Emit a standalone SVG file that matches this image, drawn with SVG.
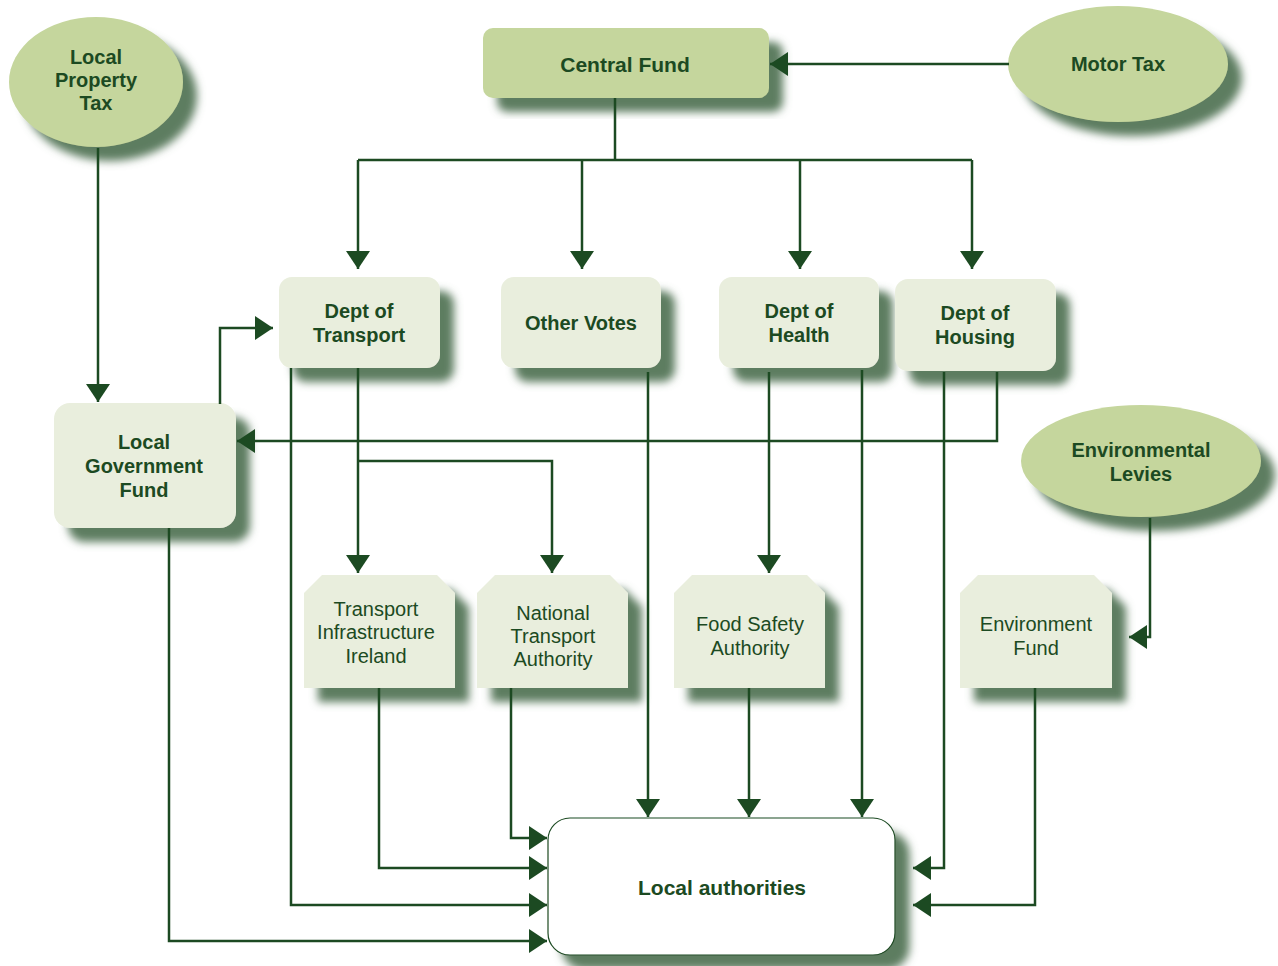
<svg xmlns="http://www.w3.org/2000/svg" width="1278" height="966" viewBox="0 0 1278 966">
<style>
.ell{fill:#c5d69d;filter:url(#sh)}
.box{fill:#e9eedd;filter:url(#sh)}
.la{fill:#ffffff;stroke:#1c4a22;stroke-width:1.2;filter:url(#sh)}
.b{font-family:"Liberation Sans",Arial,sans-serif;font-weight:bold;font-size:20px;fill:#1c4a22;text-anchor:middle}
.r{font-family:"Liberation Sans",Arial,sans-serif;font-size:20px;fill:#1c4a22;text-anchor:middle}
.c path{fill:none;stroke:#1c4a22;stroke-width:2.5;marker-end:url(#ah)}
.c path.n{marker-end:none}
</style>
<defs>
<filter id="sh" x="-20%" y="-20%" width="150%" height="150%">
<feDropShadow dx="14" dy="14" stdDeviation="4" flood-color="#5d7d61" flood-opacity="1"/>
</filter>
<marker id="ah" markerUnits="userSpaceOnUse" markerWidth="18" markerHeight="24" refX="18" refY="12" orient="auto">
<path d="M0,0 L18,12 L0,24 z" fill="#1c4a22"/>
</marker>
</defs>
<rect width="1278" height="966" fill="#ffffff"/>

<g id="n-lpt"><ellipse class="ell" cx="96" cy="82" rx="87" ry="65"/>
<text class="b" x="96" y="64">Local</text><text class="b" x="96" y="87">Property</text><text class="b" x="96" y="110">Tax</text></g>
<g id="n-cf"><rect class="ell" x="483" y="28" width="286" height="70" rx="10"/>
<text class="b" x="625" y="72" style="font-size:21px">Central Fund</text></g>
<g id="n-mt"><ellipse class="ell" cx="1118" cy="64" rx="110" ry="58"/>
<text class="b" x="1118" y="71">Motor Tax</text></g>
<g id="n-dt"><rect class="box" x="279" y="277" width="161" height="91" rx="13"/>
<text class="b" x="359" y="318">Dept of</text><text class="b" x="359" y="342">Transport</text></g>
<g id="n-ov"><rect class="box" x="501" y="277" width="160" height="91" rx="13"/>
<text class="b" x="581" y="330">Other Votes</text></g>
<g id="n-dh"><rect class="box" x="719" y="277" width="160" height="91" rx="13"/>
<text class="b" x="799" y="318">Dept of</text><text class="b" x="799" y="342">Health</text></g>
<g id="n-dho"><rect class="box" x="895" y="279" width="161" height="92" rx="13"/>
<text class="b" x="975" y="320">Dept of</text><text class="b" x="975" y="344">Housing</text></g>
<g id="n-lgf"><rect class="box" x="54" y="403" width="182" height="125" rx="16"/>
<text class="b" x="144" y="449">Local</text><text class="b" x="144" y="473">Government</text><text class="b" x="144" y="497">Fund</text></g>
<g id="n-el"><ellipse class="ell" cx="1141" cy="461" rx="120" ry="56"/>
<text class="b" x="1141" y="457">Environmental</text><text class="b" x="1141" y="481">Levies</text></g>
<g id="n-tii"><path class="box" d="M322,575 H437 L455,593 V688 H304 V593 Z"/>
<text class="r" x="376" y="616">Transport</text><text class="r" x="376" y="639">Infrastructure</text><text class="r" x="376" y="663">Ireland</text></g>
<g id="n-nta"><path class="box" d="M495,575 H610 L628,593 V688 H477 V593 Z"/>
<text class="r" x="553" y="620">National</text><text class="r" x="553" y="643">Transport</text><text class="r" x="553" y="666">Authority</text></g>
<g id="n-fsa"><path class="box" d="M692,575 H807 L825,593 V688 H674 V593 Z"/>
<text class="r" x="750" y="631">Food Safety</text><text class="r" x="750" y="655">Authority</text></g>
<g id="n-ef"><path class="box" d="M978,575 H1094 L1112,593 V688 H960 V593 Z"/>
<text class="r" x="1036" y="631">Environment</text><text class="r" x="1036" y="655">Fund</text></g>
<g id="n-la"><rect class="la" x="548" y="818" width="347" height="137" rx="22"/>
<text class="b" x="722" y="895" style="font-size:21px">Local authorities</text></g>

<g id="connectors" class="c">
<path d="M1009,64 H770"/>
<path class="n" d="M615,98 V160"/>
<path class="n" d="M358,160 H972"/>
<path d="M358,160 V269"/>
<path d="M582,160 V269"/>
<path d="M800,160 V269"/>
<path d="M972,160 V269"/>
<path d="M98,148 V402"/>
<path d="M220,404 V328 H273"/>
<path d="M997,372 V441 H237"/>
<path d="M358,368 V573"/>
<path d="M358,461 H552 V573"/>
<path d="M291,368 V905 H547"/>
<path d="M648,372 V817"/>
<path d="M769,372 V573"/>
<path d="M862,370 V817"/>
<path d="M749,688 V817"/>
<path d="M944,372 V868 H913"/>
<path d="M1035,688 V905 H913"/>
<path d="M1150,518 V637 H1129"/>
<path d="M379,688 V868 H547"/>
<path d="M511,688 V838 H547"/>
<path d="M169,528 V941 H547"/>
</g>
</svg>
